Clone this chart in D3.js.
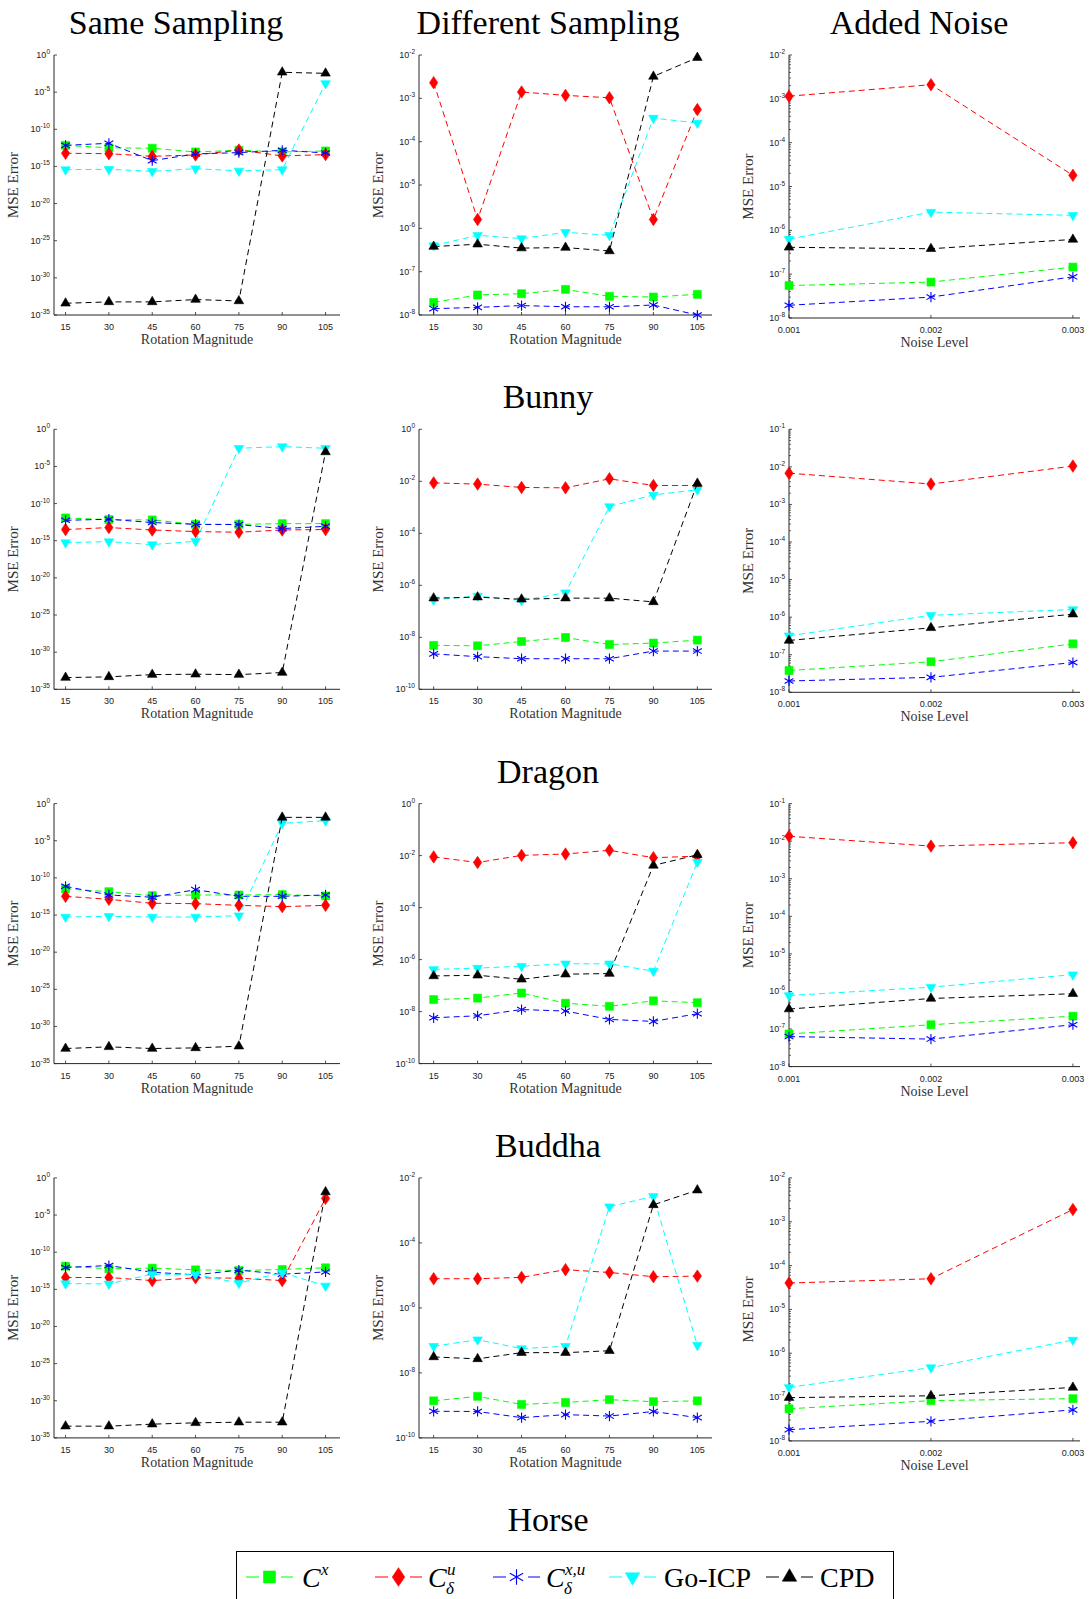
<!DOCTYPE html>
<html>
<head>
<meta charset="utf-8">
<script src="https://cdn.jsdelivr.net/npm/d3@7.9.0/dist/d3.min.js"></script>
<style>
  body { margin: 0; background: #fff; }
  svg { display: block; }
</style>
</head>
<body>
<svg id="fig" width="1089" height="1599"></svg>
<script>
const rotations = [15, 30, 45, 60, 75, 90, 105];
const noiseLevels = [0.001, 0.002, 0.003];
const columnTitles = ["Same Sampling", "Different Sampling", "Added Noise"];
const objectNames = ["Bunny", "Dragon", "Buddha", "Horse"];
const methodColors = ["#00ff00", "#ff0000", "#0000ff", "#00ffff", "#000000"];
const methodMarkers = ["square", "diamond", "asterisk", "triangleDown", "triangleUp"];

// series order in every panel: C^x, C^u_d, C^{x,u}_d, Go-ICP, CPD
const bunnySame = [
  [6.9e-13, 3.2e-13, 2.8e-13, 8.9e-14, 1.5e-13, 8.9e-14, 1.2e-13],
  [5.9e-14, 5.2e-14, 2.3e-14, 3.5e-14, 1.6e-13, 2.6e-14, 3.9e-14],
  [6.9e-13, 1.3e-12, 6.0e-15, 4.8e-14, 7.2e-14, 1.5e-13, 6.5e-14],
  [3.7e-16, 4.1e-16, 2.2e-16, 5.0e-16, 2.5e-16, 3.7e-16, 1.5e-4],
  [3.8e-34, 5.8e-34, 5.8e-34, 1.2e-33, 7.8e-34, 4.7e-3, 3.4e-3]
];
const bunnyDiff = [
  [1.95e-8, 2.9e-8, 3.1e-8, 3.9e-8, 2.7e-8, 2.6e-8, 3.0e-8],
  [2.3e-3, 1.6e-6, 1.4e-3, 1.17e-3, 1.03e-3, 1.6e-6, 5.5e-4],
  [1.4e-8, 1.5e-8, 1.65e-8, 1.55e-8, 1.55e-8, 1.7e-8, 1.0e-8],
  [4.0e-7, 6.9e-7, 5.8e-7, 8.1e-7, 6.9e-7, 3.5e-4, 2.7e-4],
  [3.8e-7, 4.3e-7, 3.5e-7, 3.6e-7, 3.0e-7, 3.2e-3, 8.7e-3]
];
const bunnyNoise = [
  [5.5e-8, 6.6e-8, 1.45e-7],
  [1.15e-3, 2.1e-3, 1.8e-5],
  [1.95e-8, 3.0e-8, 8.7e-8],
  [6.3e-7, 2.6e-6, 2.2e-6],
  [4.1e-7, 3.8e-7, 6.2e-7]
];

const dragonSame = [
  [1.17e-12, 6.9e-13, 6.3e-13, 1.6e-13, 1.6e-13, 2.0e-13, 2.0e-13],
  [3.2e-14, 5.9e-14, 2.8e-14, 1.7e-14, 1.4e-14, 2.8e-14, 3.2e-14],
  [5.6e-13, 7.8e-13, 2.8e-13, 1.6e-13, 1.5e-13, 4.3e-14, 8.7e-14],
  [5.6e-16, 7.6e-16, 3.0e-16, 8.5e-16, 2.8e-3, 4.7e-3, 2.8e-3],
  [3.8e-34, 4.7e-34, 9.5e-34, 1.07e-33, 9.5e-34, 1.8e-33, 8.9e-4]
];
const dragonDiff = [
  [4.9e-9, 4.7e-9, 6.9e-9, 9.8e-9, 5.3e-9, 6.0e-9, 7.8e-9],
  [8.7e-3, 7.8e-3, 5.8e-3, 5.6e-3, 1.25e-2, 6.9e-3, 6.9e-3],
  [2.3e-9, 1.8e-9, 1.5e-9, 1.5e-9, 1.5e-9, 2.95e-9, 2.95e-9],
  [2.75e-7, 3.9e-7, 2.6e-7, 5.2e-7, 1.07e-3, 3.0e-3, 4.7e-3],
  [3.2e-7, 3.5e-7, 2.9e-7, 3.2e-7, 3.2e-7, 2.3e-7, 8.3e-3]
];
const dragonNoise = [
  [3.8e-8, 6.5e-8, 1.95e-7],
  [6.8e-3, 3.5e-3, 1.05e-2],
  [2.0e-8, 2.5e-8, 6.2e-8],
  [3.2e-7, 1.12e-6, 1.6e-6],
  [2.4e-7, 5.2e-7, 1.2e-6]
];

const buddhaSame = [
  [3.3e-12, 1.4e-12, 4.1e-13, 5.0e-13, 5.0e-13, 5.6e-13, 3.7e-13],
  [3.3e-13, 1.3e-13, 3.8e-14, 3.4e-14, 2.0e-14, 1.35e-14, 2.0e-14],
  [7.4e-12, 5.0e-13, 2.5e-13, 2.6e-12, 3.3e-13, 3.3e-13, 5.0e-13],
  [5.4e-16, 6.6e-16, 5.4e-16, 5.4e-16, 8.1e-16, 2.2e-3, 5.0e-3],
  [1.07e-33, 1.8e-33, 1.07e-33, 1.3e-33, 2.2e-33, 1.4e-2, 1.4e-2]
];
const buddhaDiff = [
  [2.9e-8, 3.3e-8, 5.2e-8, 2.1e-8, 1.6e-8, 2.6e-8, 2.2e-8],
  [8.9e-3, 5.4e-3, 1.02e-2, 1.15e-2, 1.6e-2, 8.3e-3, 9.5e-3],
  [5.8e-9, 6.9e-9, 1.2e-8, 1.05e-8, 5.0e-9, 4.2e-9, 8.3e-9],
  [4.2e-7, 4.7e-7, 5.6e-7, 6.9e-7, 6.9e-7, 3.6e-7, 5.6e-3],
  [2.35e-7, 2.5e-7, 1.75e-7, 2.75e-7, 2.9e-7, 4.2e-3, 1.07e-2]
];
const buddhaNoise = [
  [7.4e-8, 1.3e-7, 2.2e-7],
  [1.35e-2, 7.4e-3, 9.1e-3],
  [6.3e-8, 5.4e-8, 1.3e-7],
  [7.8e-7, 1.3e-6, 2.8e-6],
  [3.4e-7, 6.5e-7, 8.7e-7]
];

const horseSame = [
  [1.3e-12, 5.8e-13, 7.1e-13, 4.2e-13, 3.4e-13, 4.7e-13, 7.9e-13],
  [3.9e-14, 3.9e-14, 1.5e-14, 3.5e-14, 3.2e-14, 1.5e-14, 1.75e-3],
  [8.7e-13, 1.6e-12, 2.0e-13, 8.9e-14, 3.8e-13, 1.1e-13, 2.2e-13],
  [5.9e-15, 5.4e-15, 1.1e-13, 1.0e-13, 7.2e-15, 1.8e-13, 2.9e-15],
  [3.8e-34, 3.8e-34, 7.1e-34, 1.07e-33, 1.3e-33, 1.3e-33, 1.26e-2]
];
const horseDiff = [
  [1.38e-9, 1.9e-9, 1.07e-9, 1.23e-9, 1.5e-9, 1.3e-9, 1.38e-9],
  [7.9e-6, 7.9e-6, 8.7e-6, 1.5e-5, 1.23e-5, 9.1e-6, 9.5e-6],
  [6.6e-10, 6.5e-10, 4.2e-10, 5.2e-10, 4.7e-10, 6.5e-10, 4.2e-10],
  [6.6e-8, 1.05e-7, 5.6e-8, 6.6e-8, 1.3e-3, 2.7e-3, 7.1e-8],
  [3.1e-8, 2.7e-8, 4.2e-8, 4.2e-8, 4.8e-8, 1.48e-3, 4.2e-3]
];
const horseNoise = [
  [5.4e-8, 8.3e-8, 9.2e-8],
  [4.0e-5, 5.0e-5, 1.9e-3],
  [1.8e-8, 2.8e-8, 5.1e-8],
  [1.66e-7, 4.7e-7, 2.0e-6],
  [9.7e-8, 1.07e-7, 1.66e-7]
];

const sameData = [bunnySame, dragonSame, buddhaSame, horseSame];
const diffData = [bunnyDiff, dragonDiff, buddhaDiff, horseDiff];
const noiseData = [bunnyNoise, dragonNoise, buddhaNoise, horseNoise];

// y axis limits (decade exponents) and tick step per panel
const sameYExp = [[-35, 0], [-35, 0], [-35, 0], [-35, 0]];
const diffYExp = [[-8, -2], [-10, 0], [-10, 0], [-10, -2]];
const noiseYExp = [[-8, -2], [-8, -1], [-8, -1], [-8, -2]];
const sameTickStep = 5;
const diffTickStep = [1, 2, 2, 2];

const svg = d3.select("#fig");
svg.append("rect").attr("width", 1089).attr("height", 1599).attr("fill", "#fff");

const ROW_STEP = 374.3;
const serif = "'Liberation Serif', 'Times New Roman', serif";
const sans = "'Liberation Sans', Arial, sans-serif";
const axisColor = "#262626";

const columns = [
  { x0: 54, x1: 340, xDomain: [11, 110], xs: rotations, xLabel: "Rotation Magnitude", bottomPad: 0, fmt: d => d },
  { x0: 419, x1: 712, xDomain: [10, 110], xs: rotations, xLabel: "Rotation Magnitude", bottomPad: 0, fmt: d => d },
  { x0: 789, x1: 1080, xDomain: [0.001, 0.00305], xs: noiseLevels, xLabel: "Noise Level", bottomPad: 3, fmt: d => d.toFixed(3) }
];

function markerPath(kind, s) {
  if (kind === "square") return d3.symbol(d3.symbolSquare, s * s)();
  if (kind === "diamond") {
    const w = s * 0.52, h = s * 0.78;
    return `M0,${-h}L${w},0L0,${h}L${-w},0Z`;
  }
  if (kind === "asterisk") return d3.symbol(d3.symbolAsterisk, s * s * 1.15)();
  return d3.symbol(d3.symbolTriangle, s * s * 0.62)();
}

function drawMarker(g, kind, color, x, y, s) {
  const p = g.append("path")
    .attr("d", markerPath(kind, s))
    .attr("transform", `translate(${x},${y})${kind === "triangleDown" ? " rotate(180)" : ""}`);
  if (kind === "asterisk") {
    p.attr("fill", "none").attr("stroke", color).attr("stroke-width", 1.1);
  } else {
    p.attr("fill", color).attr("stroke", color).attr("stroke-width", 0.6);
  }
}

function drawPanel(row, colIdx, series, yExp, tickStep, minor) {
  const col = columns[colIdx];
  const top = 55 + row * ROW_STEP;
  const bottom = 315 + row * ROW_STEP + col.bottomPad;
  const g = svg.append("g");

  const x = d3.scaleLinear().domain(col.xDomain).range([col.x0, col.x1]);
  const y = d3.scaleLog().domain([Math.pow(10, yExp[0]), Math.pow(10, yExp[1])]).range([bottom, top]);

  g.append("line").attr("x1", col.x0).attr("x2", col.x0).attr("y1", top).attr("y2", bottom)
    .attr("stroke", axisColor).attr("stroke-width", 1);
  g.append("line").attr("x1", col.x0).attr("x2", col.x1).attr("y1", bottom).attr("y2", bottom)
    .attr("stroke", axisColor).attr("stroke-width", 1);

  for (let e = yExp[0]; e <= yExp[1]; e += tickStep) {
    const yy = y(Math.pow(10, e));
    g.append("line").attr("x1", col.x0).attr("x2", col.x0 + 3).attr("y1", yy).attr("y2", yy)
      .attr("stroke", axisColor).attr("stroke-width", 0.8);
    const t = g.append("text").attr("x", col.x0 - 4).attr("y", yy + 3)
      .attr("text-anchor", "end").attr("font-family", sans).attr("font-size", 9).attr("fill", "#222");
    t.append("tspan").text("10");
    t.append("tspan").attr("dy", -4).attr("font-size", 6.5).text(String(e));
  }
  if (minor) {
    for (let e = yExp[0]; e < yExp[1]; e++) {
      for (let m = 2; m <= 9; m++) {
        const yy = y(m * Math.pow(10, e));
        g.append("line").attr("x1", col.x0).attr("x2", col.x0 + 2).attr("y1", yy).attr("y2", yy)
          .attr("stroke", axisColor).attr("stroke-width", 0.7);
      }
    }
  }

  col.xs.forEach(v => {
    const xx = x(v);
    g.append("line").attr("x1", xx).attr("x2", xx).attr("y1", bottom).attr("y2", bottom - 3)
      .attr("stroke", axisColor).attr("stroke-width", 0.8);
    g.append("text").attr("x", xx).attr("y", bottom + 15).attr("text-anchor", "middle")
      .attr("font-family", sans).attr("font-size", 9).attr("fill", "#222").text(col.fmt(v));
  });

  g.append("text").attr("x", (col.x0 + col.x1) / 2).attr("y", bottom + 29).attr("text-anchor", "middle")
    .attr("font-family", serif).attr("font-size", 14).attr("fill", "#333").text(col.xLabel);
  const ly = (top + bottom) / 2;
  const lx = col.x0 - 36;
  g.append("text").attr("transform", `translate(${lx},${ly}) rotate(-90)`).attr("text-anchor", "middle")
    .attr("font-family", serif).attr("font-size", 15).attr("fill", "#333").text("MSE Error");

  const line = d3.line().x((d, i) => x(col.xs[i])).y(d => y(d));
  series.forEach((vals, k) => {
    const sg = g.append("g");
    sg.append("path").attr("d", line(vals)).attr("fill", "none")
      .attr("stroke", methodColors[k]).attr("stroke-width", 1).attr("stroke-dasharray", "6,4");
    vals.forEach((v, i) => drawMarker(sg, methodMarkers[k], methodColors[k], x(col.xs[i]), y(v), 8));
  });
}

for (let r = 0; r < 4; r++) {
  drawPanel(r, 0, sameData[r], sameYExp[r], sameTickStep, false);
  drawPanel(r, 1, diffData[r], diffYExp[r], diffTickStep[r], false);
  drawPanel(r, 2, noiseData[r], noiseYExp[r], 1, true);
}

const titleX = [176, 548, 919];
columnTitles.forEach((t, i) => {
  svg.append("text").attr("x", titleX[i]).attr("y", 34).attr("text-anchor", "middle")
    .attr("font-family", serif).attr("font-size", 34).attr("fill", "#000").text(t);
});
objectNames.forEach((t, r) => {
  svg.append("text").attr("x", 548).attr("y", 34 + (r + 1) * ROW_STEP).attr("text-anchor", "middle")
    .attr("font-family", serif).attr("font-size", 34).attr("fill", "#000").text(t);
});

// legend
const lg = svg.append("g");
lg.append("rect").attr("x", 236.5).attr("y", 1551.5).attr("width", 657).attr("height", 60)
  .attr("fill", "#fff").attr("stroke", "#000").attr("stroke-width", 1);
const legendX = [246, 375, 493, 609, 766];
const legendY = 1577;
legendX.forEach((lx, k) => {
  lg.append("line").attr("x1", lx).attr("x2", lx + 47).attr("y1", legendY).attr("y2", legendY)
    .attr("stroke", methodColors[k]).attr("stroke-width", 1.2).attr("stroke-dasharray", "13,22,12");
  drawMarker(lg, methodMarkers[k], methodColors[k], lx + 23.5, legendY, 12);
});

function mathLabel(x0, sup, sub) {
  const base = 1587;
  lg.append("text").attr("x", x0).attr("y", base).attr("font-family", serif).attr("font-style", "italic")
    .attr("font-size", 28).text("C");
  if (sup) lg.append("text").attr("x", x0 + 19).attr("y", base - 12).attr("font-family", serif)
    .attr("font-style", "italic").attr("font-size", 17).text(sup);
  if (sub) lg.append("text").attr("x", x0 + 18).attr("y", base + 7).attr("font-family", serif)
    .attr("font-style", "italic").attr("font-size", 17).text(sub);
}
mathLabel(302, "x", null);
mathLabel(428, "u", "δ");
mathLabel(546, "x,u", "δ");
lg.append("text").attr("x", 664).attr("y", 1587).attr("font-family", serif).attr("font-size", 28).text("Go-ICP");
lg.append("text").attr("x", 820).attr("y", 1587).attr("font-family", serif).attr("font-size", 28).text("CPD");
</script>
</body>
</html>
